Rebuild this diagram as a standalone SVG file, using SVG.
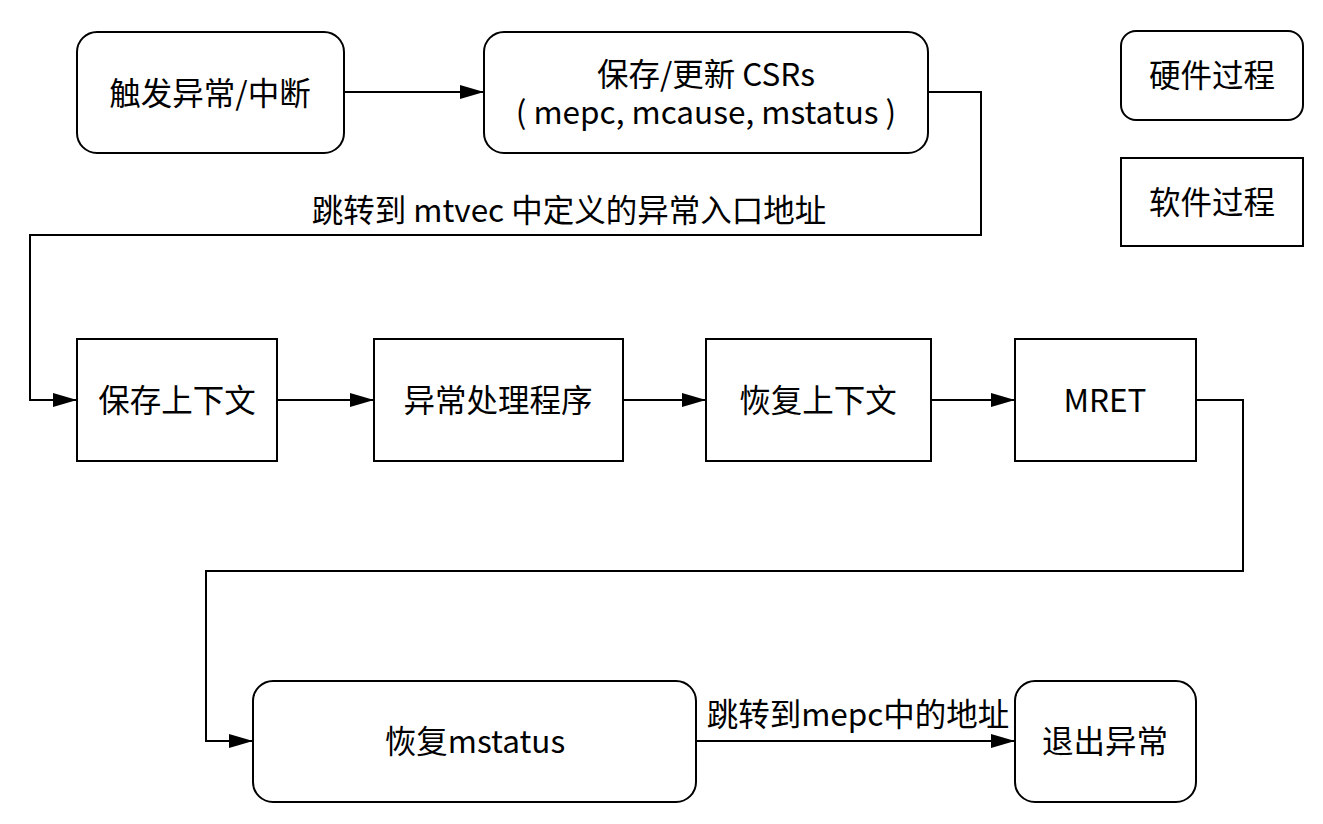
<svg xmlns="http://www.w3.org/2000/svg" width="1323" height="824" viewBox="0 0 1323 824">
<style>
.box{fill:#fff;stroke:#000;stroke-width:2}
.t{font-family:"Noto Sans CJK SC","Microsoft YaHei",sans-serif;font-size:31.5px;fill:#000;text-anchor:middle;dominant-baseline:central}
.c{fill:none;stroke:#000;stroke-width:2}
</style>
<defs>
<marker id="ah" viewBox="0 0 24 14" refX="24" refY="7" markerWidth="24" markerHeight="14" markerUnits="userSpaceOnUse" orient="auto">
<path d="M0,0 L24,7 L0,14 Z" fill="#000"/>
</marker>
</defs>
<rect width="1323" height="824" fill="#fff"/>
<g id="connectors">
<path class="c" d="M344,92 H484" marker-end="url(#ah)"/>
<path class="c" d="M928,92 H981 V235 H30 V400 H77" marker-end="url(#ah)"/>
<path class="c" d="M277,400 H374" marker-end="url(#ah)"/>
<path class="c" d="M623,400 H706" marker-end="url(#ah)"/>
<path class="c" d="M931,400 H1015" marker-end="url(#ah)"/>
<path class="c" d="M1196,400 H1243 V571 H206 V741 H253" marker-end="url(#ah)"/>
<path class="c" d="M696,741 H1015" marker-end="url(#ah)"/>
<text class="t" x="569" y="208">跳转到 mtvec 中定义的异常入口地址</text>
<text class="t" x="858" y="712">跳转到mepc中的地址</text>
</g>
<g id="n1"><rect class="box" x="77" y="32" width="267" height="121" rx="20"/><text class="t" x="210" y="91">触发异常/中断</text></g>
<g id="n2"><rect class="box" x="484" y="32" width="444" height="121" rx="20"/><text class="t"><tspan x="706" y="72">保存/更新 CSRs</tspan><tspan x="706" y="110">( mepc, mcause, mstatus )</tspan></text></g>
<g id="hw"><rect class="box" x="1121" y="31" width="182" height="89" rx="15"/><text class="t" x="1212" y="73">硬件过程</text></g>
<g id="sw"><rect class="box" x="1121" y="158" width="182" height="88"/><text class="t" x="1212" y="200">软件过程</text></g>
<g id="n3"><rect class="box" x="77" y="339" width="200" height="122"/><text class="t" x="177" y="398">保存上下文</text></g>
<g id="n4"><rect class="box" x="374" y="339" width="249" height="122"/><text class="t" x="498" y="398">异常处理程序</text></g>
<g id="n5"><rect class="box" x="706" y="339" width="225" height="122"/><text class="t" x="818" y="398">恢复上下文</text></g>
<g id="n6"><rect class="box" x="1015" y="339" width="181" height="122"/><text class="t" x="1105" y="398">MRET</text></g>
<g id="n7"><rect class="box" x="253" y="681" width="443" height="121" rx="20"/><text class="t" x="475" y="739">恢复mstatus</text></g>
<g id="n8"><rect class="box" x="1015" y="681" width="181" height="121" rx="20"/><text class="t" x="1105" y="739">退出异常</text></g>
</svg>
